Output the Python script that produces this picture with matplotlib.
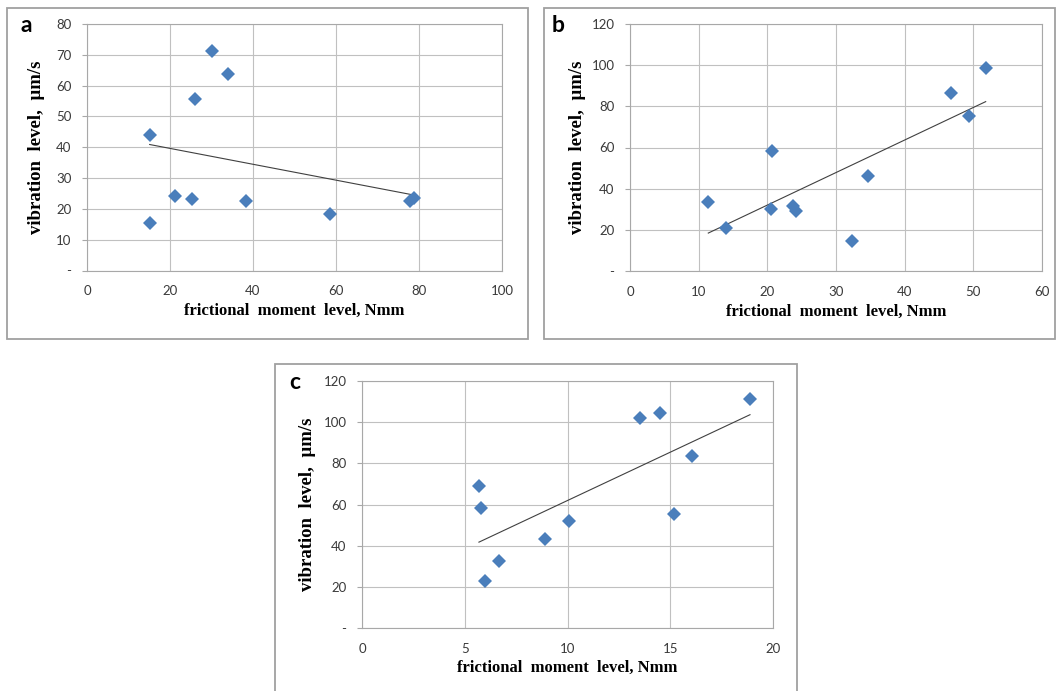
import numpy as np
import matplotlib
matplotlib.use('Agg')
import matplotlib.pyplot as plt
from matplotlib.patches import Rectangle

# ---------------- data ----------------
a_x = [15.1, 15.1, 21.3, 25.2, 26.0, 30.0, 34.0, 38.4, 58.6, 77.8, 78.8]
a_y = [43.9, 15.4, 24.3, 23.2, 55.8, 71.1, 63.7, 22.4, 18.4, 22.7, 23.4]

b_x = [11.4, 13.95, 20.5, 20.7, 23.7, 24.2, 32.4, 34.7, 46.8, 49.4, 51.8]
b_y = [33.3, 21.1, 30.2, 58.5, 31.5, 29.2, 14.8, 46.2, 86.4, 75.4, 98.8]

c_x = [5.69, 5.77, 5.97, 6.67, 8.89, 10.07, 13.52, 14.51, 15.2, 16.07, 18.88]
c_y = [68.9, 58.1, 22.8, 32.5, 43.3, 51.9, 102.0, 104.6, 55.3, 83.6, 111.1]

a_xticks = [0, 20, 40, 60, 80, 100]
a_yticks = [0, 10, 20, 30, 40, 50, 60, 70, 80]
b_xticks = [0, 10, 20, 30, 40, 50, 60]
b_yticks = [0, 20, 40, 60, 80, 100, 120]
c_xticks = [0, 5, 10, 15, 20]
c_yticks = [0, 20, 40, 60, 80, 100, 120]

panel_letters = ['a', 'b', 'c']
xlabel_text = 'frictional  moment  level, Nmm'
ylabel_text = 'vibration  level,  µm/s'

# ---------------- layout ----------------
W, H = 1057, 691
fig = plt.figure(figsize=(W / 100, H / 100), dpi=100)
fig.patch.set_facecolor('white')

def fx(px):
    return px / W

def fy(py):
    return 1 - py / H

def add_frame(x0, y0, x1, y1):
    fig.add_artist(Rectangle((fx(x0), fy(y1)), (x1 - x0) / W, (y1 - y0) / H,
                             transform=fig.transFigure, fill=False,
                             ec='#a0a0a0', lw=1.3))

add_frame(7, 8, 528, 339)
add_frame(544, 8, 1055, 339)
add_frame(275, 364, 797, 705)

panels = [
    dict(box=(87, 24, 502, 270.5), x=a_x, y=a_y, xt=a_xticks, yt=a_yticks,
         letter=(26, 32), ylab_cx=37, xlab_cy=311),
    dict(box=(630, 24, 1042, 271), x=b_x, y=b_y, xt=b_xticks, yt=b_yticks,
         letter=(558, 32), ylab_cx=577, xlab_cy=312),
    dict(box=(362, 381, 773, 628), x=c_x, y=c_y, xt=c_xticks, yt=c_yticks,
         letter=(295, 389), ylab_cx=308, xlab_cy=668),
]

tick_font = 'Lato'
label_font = 'Liberation Serif'

for p, letter in zip(panels, panel_letters):
    l, t, r, b = p['box']
    ax = fig.add_axes([fx(l), fy(b), (r - l) / W, (b - t) / H])
    ax.set_axisbelow(True)
    ax.set_xlim(p['xt'][0], p['xt'][-1])
    ax.set_ylim(p['yt'][0], p['yt'][-1])
    ax.set_xticks(p['xt'], labels=[str(v) for v in p['xt']])
    ax.set_yticks(p['yt'], labels=['-' if v == 0 else str(v) for v in p['yt']])
    ax.grid(True, color='#c0c0c0', lw=0.8)
    for s in ax.spines.values():
        s.set_color('#a8a8a8')
        s.set_linewidth(0.8)
    ax.tick_params(axis='y', direction='out', length=3.6, width=0.8,
                   color='#a8a8a8', pad=7.5, labelsize=9.5, labelcolor='#3a3a3a')
    ax.tick_params(axis='x', length=0, pad=10.5, labelsize=9.5,
                   labelcolor='#3a3a3a')
    for lab in ax.get_xticklabels() + ax.get_yticklabels():
        lab.set_fontfamily(tick_font)

    x = np.array(p['x'])
    y = np.array(p['y'])
    ax.plot(x, y, 'D', ms=7, color='#4a7ebb', mew=0, zorder=3, clip_on=False)
    coef = np.polyfit(x, y, 1)
    xs = np.array([x.min(), x.max()])
    ax.plot(xs, np.polyval(coef, xs), color='#404040', lw=0.8, zorder=2)

    ax.set_xlabel(xlabel_text, fontfamily=label_font, fontweight='bold',
                  fontsize=12, va='center', color='black')
    ax.xaxis.set_label_coords(0.5, -(p['xlab_cy'] - b) / (b - t))
    ax.set_ylabel(ylabel_text, fontfamily=label_font, fontweight='bold',
                  fontsize=13.5, va='center', color='black')
    ax.yaxis.set_label_coords(-(l - p['ylab_cx']) / (r - l), 0.5)

    lx, ly = p['letter']
    fig.text(fx(lx), fy(ly), letter, fontfamily='Lato', fontweight='bold',
             fontsize=16.5, ha='center', va='baseline', color='black')

fig.savefig('out.png', dpi=100, facecolor='white')
